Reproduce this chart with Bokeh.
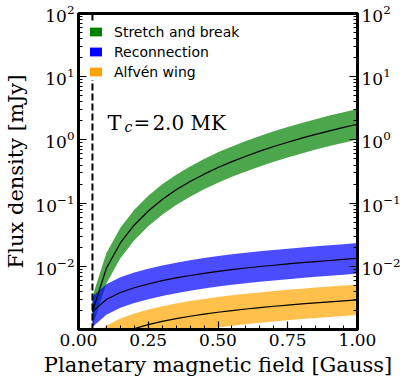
from bokeh.plotting import figure
from bokeh.models import (Range1d, LogAxis, FixedTicker, SingleIntervalTicker,
                          PrintfTickFormatter, Legend, LegendItem, Span, Label)
from bokeh.embed import file_html
from bokeh.resources import INLINE

# ---------------- data ----------------
B = [0.05, 0.10, 0.15, 0.20, 0.25, 0.30, 0.35, 0.40, 0.45, 0.50,
     0.55, 0.60, 0.65, 0.70, 0.75, 0.80, 0.85, 0.90, 0.95, 1.00]

stretch = [0.00192, 0.0093, 0.0234, 0.0451, 0.0750, 0.114, 0.162, 0.219, 0.287, 0.365,
           0.453, 0.552, 0.663, 0.785, 0.918, 1.064, 1.222, 1.392, 1.575, 1.77]
stretch_hi = [0.00334, 0.0162, 0.0407, 0.0785, 0.1305, 0.198, 0.282, 0.381, 0.499, 0.635,
              0.788, 0.960, 1.154, 1.366, 1.597, 1.851, 2.126, 2.422, 2.741, 3.08]
stretch_lo = [0.00110, 0.00534, 0.01345, 0.0259, 0.0431, 0.0655, 0.0931, 0.1259, 0.165, 0.2098,
              0.2603, 0.3172, 0.381, 0.451, 0.5276, 0.6115, 0.7023, 0.800, 0.905, 1.017]

recon = [0.00192, 0.00298, 0.00385, 0.00458, 0.00525, 0.00592, 0.00655, 0.00715, 0.00775, 0.00833,
         0.00888, 0.00940, 0.00992, 0.01040, 0.01090, 0.01140, 0.01188, 0.01235, 0.01285, 0.01340]
recon_hi = [0.00334, 0.00519, 0.00670, 0.00797, 0.00914, 0.01030, 0.01140, 0.01244, 0.01349, 0.01449,
            0.01545, 0.01636, 0.01726, 0.01810, 0.01897, 0.01984, 0.02067, 0.02149, 0.02236, 0.02332]
recon_lo = [0.00110, 0.00171, 0.00221, 0.00263, 0.00302, 0.00340, 0.00376, 0.00411, 0.00445, 0.00479,
            0.00510, 0.00540, 0.00570, 0.00598, 0.00626, 0.00655, 0.00683, 0.00710, 0.00738, 0.00770]

alfven = [0.00042, 0.000658, 0.000856, 0.001033, 0.001194, 0.001344, 0.001486, 0.001621, 0.00175, 0.001874,
          0.001993, 0.00211, 0.002222, 0.002332, 0.002439, 0.002543, 0.002646, 0.002745, 0.002844, 0.00294]
alfven_hi = [0.000731, 0.001145, 0.001489, 0.001797, 0.002078, 0.002339, 0.002586, 0.002821, 0.003045, 0.003261,
             0.003468, 0.003671, 0.003866, 0.004058, 0.004244, 0.004425, 0.004604, 0.004776, 0.004949, 0.005116]
alfven_lo = [0.000241, 0.000378, 0.000492, 0.000594, 0.000686, 0.000772, 0.000854, 0.000932, 0.001006, 0.001077,
             0.001145, 0.001213, 0.001277, 0.00134, 0.001402, 0.001461, 0.001521, 0.001578, 0.001634, 0.00169]

B_min = 0.05
labels = ["Stretch and break", "Reconnection", "Alfvén wing"]
colors = ["#008000", "#0000ff", "#ffa500"]

y_major = [1e-2, 1e-1, 1e0, 1e1, 1e2]
y_minor = [k * 10.0 ** e for e in range(-3, 2) for k in range(2, 10)]

SERIF = "DejaVu Serif"
SANS = "DejaVu Sans"

p = figure(width=411, height=381, output_backend="svg", toolbar_location=None,
           x_range=Range1d(0, 1), y_range=Range1d(1e-3, 1e2), y_axis_type="log",
           min_border_left=78, min_border_right=54, min_border_top=13, min_border_bottom=52)
p.grid.visible = False
p.outline_line_color = "black"
p.outline_line_width = 3
p.background_fill_color = "white"
p.border_fill_color = "white"

series = [(stretch, stretch_lo, stretch_hi), (recon, recon_lo, recon_hi), (alfven, alfven_lo, alfven_hi)]
for (mid, lo, hi), c in zip(series, colors):
    p.varea(x=B, y1=lo, y2=hi, fill_color=c, fill_alpha=0.7)
for (mid, lo, hi), c in zip(series, colors):
    p.line(x=B, y=mid, line_color="black", line_width=1.2)

p.add_layout(Span(location=B_min, dimension="height", line_color="black",
                  line_width=2, line_dash="7 3", level="glyph"))

# legend proxies (hidden renderers with full-opacity colours)
items = []
for (mid, lo, hi), lab, c in zip(series, labels, colors):
    r = p.varea(x=B, y1=lo, y2=hi, fill_color=c, fill_alpha=1.0, visible=False)
    items.append(LegendItem(label=lab, renderers=[r]))
leg = Legend(items=items, location="top_left", margin=10, padding=5, spacing=3,
             glyph_width=15, glyph_height=11, label_height=17, label_standoff=11,
             label_text_font=SANS, label_text_font_size="14px", label_text_color="black",
             background_fill_color="white", background_fill_alpha=1.0,
             border_line_color=None, inactive_fill_alpha=0.0)
p.add_layout(leg)

# T_c annotation
common = dict(x=0.10, y=1.84, text_font=SERIF, text_color="black", text_baseline="alphabetic")
p.add_layout(Label(text="T", text_font_size="21px", x_offset=1, **common))
p.add_layout(Label(text="c", text_font_size="14px", text_font_style="italic",
                   x_offset=18, y_offset=-4, **common))
p.add_layout(Label(text="=", text_font_size="20px", x_offset=27, **common))
p.add_layout(Label(text="2.0 MK", text_font_size="20px", x_offset=46, **common))

# axes styling
def style(ax):
    ax.axis_line_color = "black"
    ax.axis_line_width = 3
    ax.major_tick_in = 8
    ax.major_tick_out = 0
    ax.minor_tick_in = 4
    ax.minor_tick_out = 0
    ax.major_tick_line_color = "black"
    ax.minor_tick_line_color = "black"
    ax.major_tick_line_width = 1.2
    ax.minor_tick_line_width = 1
    ax.major_label_text_font = SERIF
    ax.major_label_text_font_size = "17px"
    ax.major_label_text_color = "black"
    ax.major_label_standoff = 4
    ax.axis_label_text_font = SERIF
    ax.axis_label_text_font_size = "21px"
    ax.axis_label_text_font_style = "normal"
    ax.axis_label_text_color = "black"
    ax.axis_label_standoff = 4

xa = p.xaxis[0]
xa.ticker = SingleIntervalTicker(interval=0.25, num_minor_ticks=5)
xa.formatter = PrintfTickFormatter(format="%.2f")
xa.axis_label = "Planetary magnetic field [Gauss]"
style(xa)

ya = p.yaxis[0]
ya.ticker = FixedTicker(ticks=y_major, minor_ticks=y_minor)
ya.axis_label = "Flux density [mJy]"
style(ya)

yr = LogAxis(ticker=FixedTicker(ticks=y_major, minor_ticks=y_minor))
style(yr)
p.add_layout(yr, "right")

open("out.html", "w").write(file_html(p, INLINE))
